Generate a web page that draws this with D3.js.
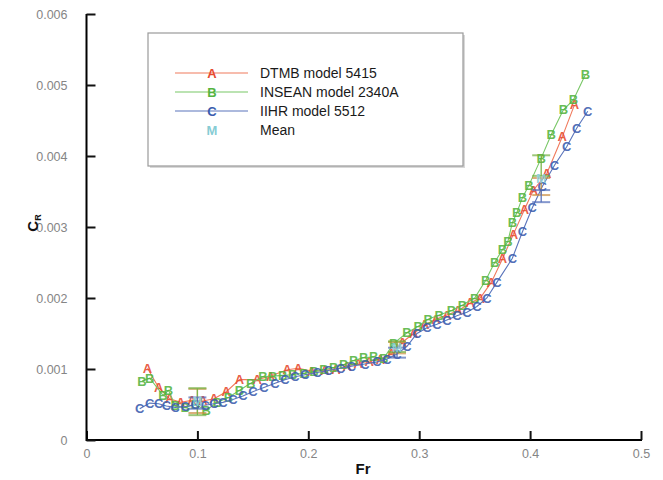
<!DOCTYPE html>
<html>
<head>
<meta charset="utf-8">
<script src="https://cdn.jsdelivr.net/npm/d3@7/dist/d3.min.js"></script>
<style>
  html, body { margin: 0; padding: 0; background: #fff; }
  svg { display: block; font-family: Arial, "Liberation Sans", sans-serif; }
</style>
</head>
<body>
<svg id="chart" width="663" height="480"></svg>
<script>
// Residuary resistance coefficient C_R versus Froude number for three hull models

const dtmbFr = [0.055,0.065,0.075,0.085,0.095,0.105,0.115,0.126,0.138,0.154,0.166,0.181,0.191,0.203,0.215,0.225,0.235,0.245,0.255,0.265,0.275,0.285,0.295,0.305,0.315,0.325,0.335,0.346,0.355,0.365,0.375,0.385,0.395,0.403,0.415,0.429,0.440];
const dtmbCr = [0.00101,0.00074,0.00058,0.00053,0.00056,0.00055,0.00058,0.00068,0.00085,0.00085,0.00090,0.00099,0.00101,0.00097,0.00098,0.00100,0.00104,0.00108,0.00111,0.00114,0.00122,0.00138,0.00150,0.00162,0.00170,0.00176,0.00182,0.00193,0.00200,0.00222,0.00255,0.00290,0.00325,0.00352,0.00375,0.00427,0.00472];

const inseanFr = [0.050,0.057,0.069,0.074,0.080,0.089,0.098,0.108,0.118,0.128,0.138,0.148,0.159,0.168,0.177,0.186,0.196,0.205,0.214,0.223,0.232,0.241,0.250,0.259,0.268,0.277,0.289,0.299,0.308,0.318,0.329,0.339,0.350,0.360,0.368,0.375,0.380,0.384,0.388,0.393,0.399,0.410,0.419,0.430,0.439,0.450];
const inseanCr = [0.00083,0.00087,0.00063,0.00070,0.00048,0.00046,0.00050,0.00042,0.00053,0.00060,0.00070,0.00080,0.00089,0.00090,0.00091,0.00092,0.00094,0.00096,0.00099,0.00102,0.00106,0.00112,0.00116,0.00117,0.00115,0.00136,0.00151,0.00160,0.00170,0.00176,0.00182,0.00190,0.00200,0.00225,0.00250,0.00268,0.00280,0.00306,0.00320,0.00341,0.00359,0.00397,0.00430,0.00465,0.00479,0.00515];

const iihrFr = [0.048,0.057,0.065,0.072,0.080,0.089,0.098,0.107,0.115,0.123,0.132,0.141,0.150,0.160,0.170,0.179,0.188,0.197,0.208,0.218,0.229,0.239,0.251,0.262,0.271,0.280,0.289,0.298,0.307,0.316,0.325,0.334,0.343,0.352,0.361,0.370,0.384,0.393,0.402,0.411,0.422,0.433,0.442,0.452];
const iihrCr = [0.00044,0.00052,0.00051,0.00048,0.00046,0.00047,0.00050,0.00049,0.00051,0.00053,0.00057,0.00062,0.00068,0.00074,0.00080,0.00085,0.00089,0.00092,0.00095,0.00098,0.00101,0.00104,0.00107,0.00110,0.00114,0.00121,0.00132,0.00150,0.00158,0.00163,0.00169,0.00175,0.00180,0.00188,0.00200,0.00222,0.00256,0.00293,0.00327,0.00357,0.00387,0.00413,0.00439,0.00463];

// Mean of the three data sets and the uncertainty band of each set
const meanFr = [0.100, 0.280, 0.410];
const meanCr = [0.00053, 0.00129, 0.00368];
const dtmbErrLo = [0.00038, 0.00122, 0.00345];
const dtmbErrHi = [0.00072, 0.00138, 0.00369];
const inseanErrLo = [0.00035, 0.00124, 0.00372];
const inseanErrHi = [0.00073, 0.00139, 0.00401];
const iihrErrLo = [0.00044, 0.00116, 0.00335];
const iihrErrHi = [0.00060, 0.00130, 0.00352];

const xTicks = [0, 0.1, 0.2, 0.3, 0.4, 0.5];
const xTickLabels = ["0", "0.1", "0.2", "0.3", "0.4", "0.5"];
const yTicks = [0, 0.001, 0.002, 0.003, 0.004, 0.005, 0.006];
const yTickLabels = ["0", "0.001", "0.002", "0.003", "0.004", "0.005", "0.006"];

const seriesNames = ["DTMB model 5415", "INSEAN model 2340A", "IIHR model 5512", "Mean"];
const seriesSymbols = ["A", "B", "C", "M"];

const colors = { dtmb: "#e64a30", insean: "#55b43f", iihr: "#3a5cae", mean: "#86ccd4" };
const lineColors = { dtmb: "#f07a5c", insean: "#78c766", iihr: "#5a74bb" };

const svg = d3.select("#chart");
const x = d3.scaleLinear().domain([0, 0.5]).range([86.5, 641]);
const y = d3.scaleLinear().domain([0, 0.006]).range([440, 14]);

// ---- axes (left and bottom only, ticks pointing inward) ----
const gx = svg.append("g").attr("transform", `translate(0,${y(0)})`);
gx.call(d3.axisBottom(x).tickValues(d3.range(0, 0.5001, 0.02)).tickSize(-4).tickFormat(""))
  .call(g => g.select(".domain").remove());
gx.call(d3.axisBottom(x).tickValues(xTicks).tickSize(-9).tickPadding(12)
      .tickFormat((d, i) => xTickLabels[i]))
  .call(g => g.select(".domain").attr("stroke-width", 2).attr("d", `M${x(0)},0H${x(0.5) + 1}`));
gx.selectAll("line").attr("stroke", "#111").attr("stroke-width", 1.2);
gx.selectAll(".tick line").filter(function () { return +d3.select(this).attr("y2") === -9; }).attr("stroke-width", 2);
gx.selectAll("text").attr("fill", "#858585").attr("font-size", 12.5).attr("dy", "0.5em");

const gy = svg.append("g").attr("transform", `translate(${x(0)},0)`);
gy.call(d3.axisLeft(y).tickValues(d3.range(0, 0.00601, 0.0002)).tickSize(-5).tickFormat(""))
  .call(g => g.select(".domain").remove());
gy.call(d3.axisLeft(y).tickValues(yTicks).tickSize(-9).tickPadding(19)
      .tickFormat((d, i) => yTickLabels[i]))
  .call(g => g.select(".domain").attr("stroke-width", 2).attr("d", `M0,${y(0) + 1}V${y(0.006)}`));
gy.selectAll("line").attr("stroke", "#111").attr("stroke-width", 1.2);
gy.selectAll(".tick line").filter(function () { return +d3.select(this).attr("x2") === 9; }).attr("stroke-width", 2);
gy.selectAll("text").attr("fill", "#858585").attr("font-size", 12.5);

// axis titles
svg.append("text").attr("x", 363).attr("y", 474).attr("text-anchor", "middle")
  .attr("font-size", 15).attr("font-weight", "bold").attr("fill", "#111").text("Fr");
const yt = svg.append("text").attr("transform", "translate(38,223) rotate(-90)")
  .attr("text-anchor", "middle").attr("font-size", 15).attr("font-weight", "bold").attr("fill", "#111");
yt.append("tspan").text("C");
yt.append("tspan").attr("font-size", 9).attr("dy", 3).text("R");

// ---- data series ----
const series = [
  { fr: dtmbFr, cr: dtmbCr, sym: "A", color: colors.dtmb, line: lineColors.dtmb },
  { fr: inseanFr, cr: inseanCr, sym: "B", color: colors.insean, line: lineColors.insean },
  { fr: iihrFr, cr: iihrCr, sym: "C", color: colors.iihr, line: lineColors.iihr }
];

const line = d3.line().x(d => x(d[0])).y(d => y(d[1]));
const plot = svg.append("g");

series.forEach(s => {
  const pts = s.fr.map((f, i) => [f, s.cr[i]]);
  plot.append("path").datum(pts).attr("d", line)
    .attr("fill", "none").attr("stroke", s.line).attr("stroke-width", 1.1);
  plot.append("g").selectAll("text").data(pts).join("text")
    .attr("x", d => x(d[0])).attr("y", d => y(d[1]))
    .attr("text-anchor", "middle").attr("dominant-baseline", "central")
    .attr("font-size", 13).attr("font-weight", "bold").attr("fill", s.color).attr("fill-opacity", 0.9)
    .text(s.sym);
});

// ---- uncertainty bars ----
const errSets = [
  { lo: dtmbErrLo, hi: dtmbErrHi, color: "#c98a3a" },
  { lo: inseanErrLo, hi: inseanErrHi, color: "#6fae3a" },
  { lo: iihrErrLo, hi: iihrErrHi, color: "#4a66b5" }
];
const eb = svg.append("g").attr("opacity", 0.9);
errSets.forEach(e => {
  meanFr.forEach((f, i) => {
    const cx = x(f);
    eb.append("line").attr("x1", cx).attr("x2", cx)
      .attr("y1", y(e.lo[i])).attr("y2", y(e.hi[i]))
      .attr("stroke", e.color).attr("stroke-width", 1.3);
    [e.lo[i], e.hi[i]].forEach(v => {
      eb.append("line").attr("x1", cx - 9).attr("x2", cx + 9)
        .attr("y1", y(v)).attr("y2", y(v))
        .attr("stroke", e.color).attr("stroke-width", 2).attr("stroke-opacity", 0.75);
    });
  });
});
eb.selectAll("text.mean").data(meanFr.map((f, i) => [f, meanCr[i]])).join("text")
  .attr("class", "mean")
  .attr("x", d => x(d[0])).attr("y", d => y(d[1]))
  .attr("text-anchor", "middle").attr("dominant-baseline", "central")
  .attr("font-size", 12).attr("font-weight", "bold").attr("fill", colors.mean).text("M");

// ---- legend ----
const lg = svg.append("g");
lg.append("rect").attr("x", 150).attr("y", 35).attr("width", 315).attr("height", 133)
  .attr("fill", "#d8d8d8");
lg.append("rect").attr("x", 148).attr("y", 33).attr("width", 315).attr("height", 133)
  .attr("fill", "#fff").attr("stroke", "#9a9a9a").attr("stroke-width", 1.2);
const legendColors = [colors.dtmb, colors.insean, colors.iihr, colors.mean];
const legendLines = [lineColors.dtmb, lineColors.insean, lineColors.iihr, null];
const rowY = [73, 92, 111, 130];
seriesNames.forEach((name, i) => {
  if (legendLines[i]) {
    lg.append("line").attr("x1", 175).attr("x2", 248).attr("y1", rowY[i]).attr("y2", rowY[i])
      .attr("stroke", legendLines[i]).attr("stroke-width", 1.1);
  }
  lg.append("text").attr("x", 212).attr("y", rowY[i]).attr("text-anchor", "middle")
    .attr("dominant-baseline", "central").attr("font-size", 13).attr("font-weight", "bold")
    .attr("fill", legendColors[i]).text(seriesSymbols[i]);
  lg.append("text").attr("x", 260).attr("y", rowY[i]).attr("dominant-baseline", "central")
    .attr("font-size", 14).attr("fill", "#1a1a1a").text(name);
});
</script>
</body>
</html>
